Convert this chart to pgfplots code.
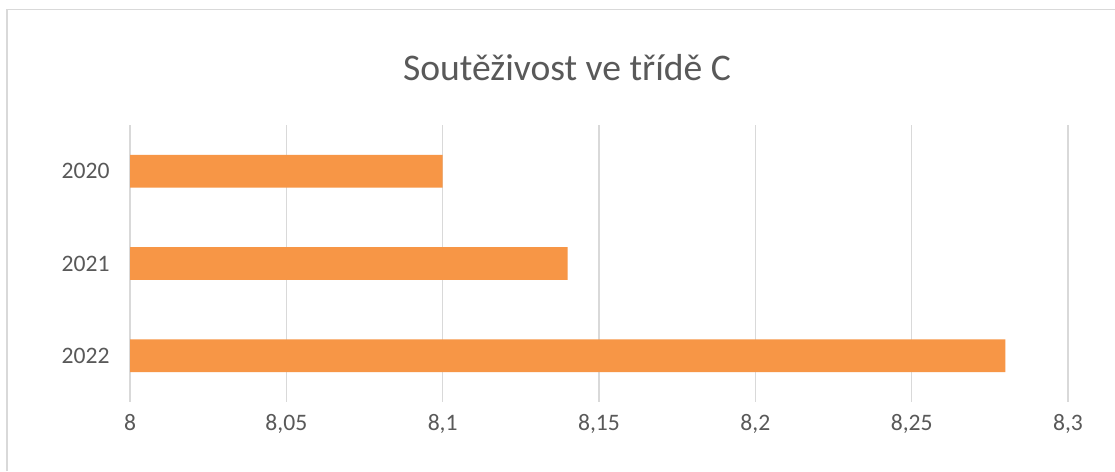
\documentclass[border=0pt]{standalone}
\usepackage{pgfplots}
\pgfplotsset{compat=1.18}
\usepackage{fontspec}
\setmainfont{Carlito}
\definecolor{barorange}{HTML}{F79646}
\definecolor{txtgray}{HTML}{595959}
\definecolor{gridgray}{HTML}{D9D9D9}
\begin{document}
\begin{tikzpicture}
\useasboundingbox (0,0) rectangle (1115pt,471pt);
\fill[white] (0,0) rectangle (1115pt,471pt);
\draw[gridgray, line width=1.5pt] (6.75pt,0pt) -- (6.75pt,461.5pt) -- (1115pt,461.5pt);
\node[text=txtgray, font=\fontsize{37.6}{44}\selectfont] at (567pt,403pt) {Soutěživost ve třídě C};
\begin{axis}[
  at={(130pt,69pt)}, anchor=south west,
  scale only axis,
  width=938pt, height=277pt,
  xmin=8, xmax=8.3,
  ymin=-0.5, ymax=2.5,
  y dir=reverse,
  xbar, bar width=32.7pt,
  bar shift=0pt,
  xtick={8,8.05,8.1,8.15,8.2,8.25,8.3},
  xticklabels={8,{8,05},{8,1},{8,15},{8,2},{8,25},{8,3}},
  ytick={0,1,2},
  yticklabels={2020,2021,2022},
  xmajorgrids,
  major grid style={gridgray, line width=1.6pt},
  axis line style={draw=none},
  major tick length=0pt,
  tick style={draw=none},
  ticklabel style={text=txtgray, font=\fontsize{23.6}{28}\selectfont},
  xticklabel style={yshift=-9pt},
  yticklabel style={xshift=-17pt},
  clip=false,
]
\addplot[fill=barorange, draw=none] coordinates {(8.10,0) (8.14,1) (8.28,2)};
\end{axis}
\end{tikzpicture}
\end{document}
